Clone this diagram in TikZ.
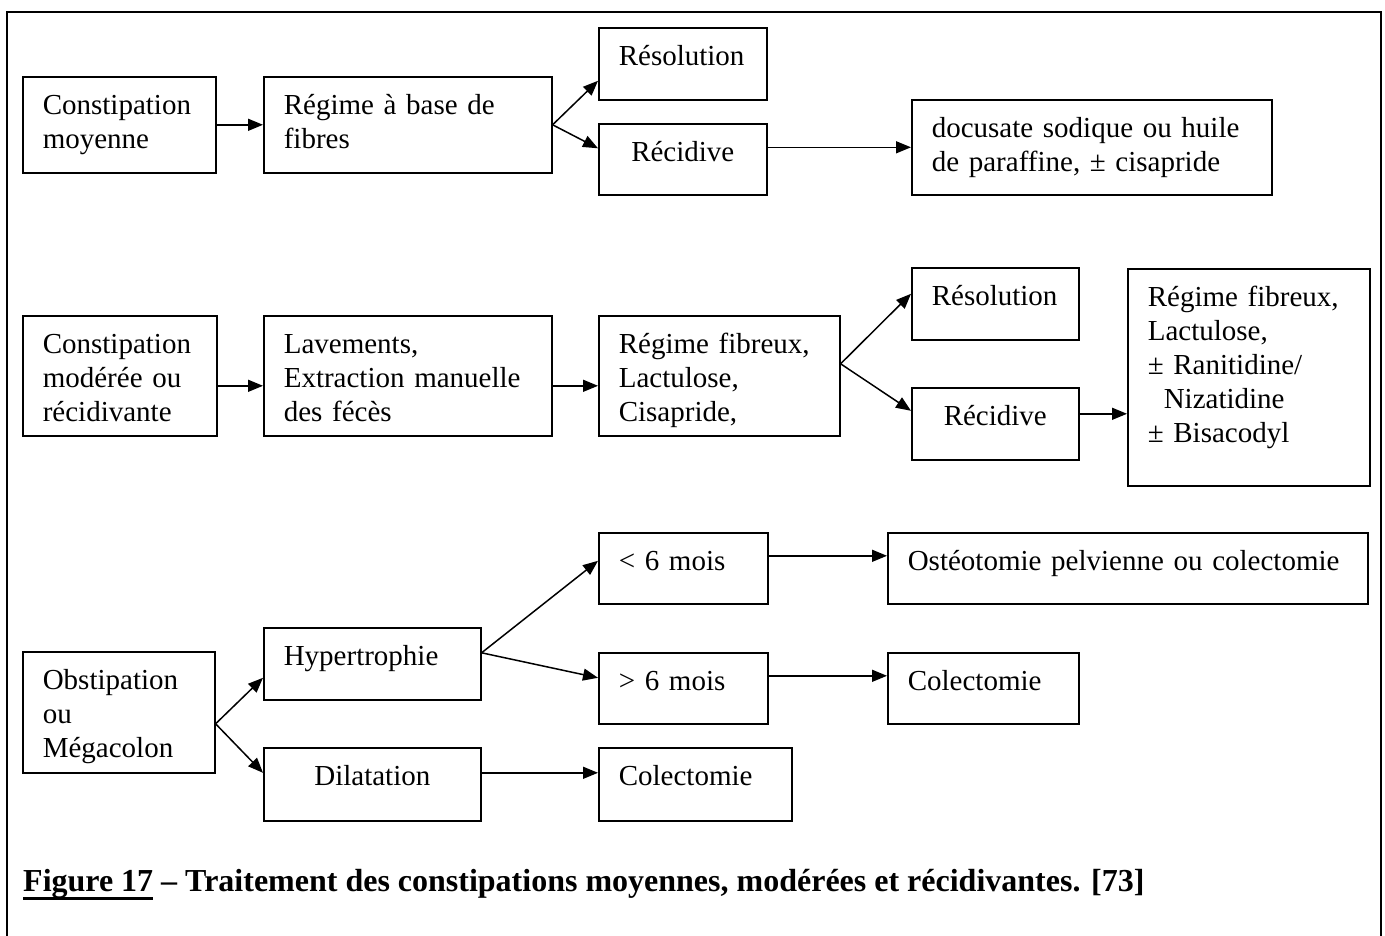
\documentclass[tikz,border=0pt]{standalone}
\usepackage{fontspec}
\setmainfont{Liberation Serif}
\usetikzlibrary{arrows.meta}

\newcommand{\pw}{1385}
\newcommand{\ph}{936}
\newcommand{\figul}[1]{\setbox0\hbox{#1}\rlap{\rule[-9pt]{\wd0}{3.5pt}}\box0}

\tikzset{
  bx/.style={draw, line width=1.6pt, anchor=north west, align=left, inner xsep=20pt, inner ysep=0pt, text height=38pt, font=\fontsize{29}{34}\selectfont},
  bxc/.style={bx, align=center},
  arr/.style={line width=1.5pt, -{Triangle[length=15pt,width=12pt]}},
}

\begin{document}
\begin{tikzpicture}[x=1pt,y=-1pt]
  \useasboundingbox (0,0) rectangle (\pw,\ph);
  \draw[line width=2pt] (7,\ph) -- (7,12) -- (1381,12) -- (1381,\ph);

  % constipation moyenne
  \node[bx, text width=153pt, text depth=58pt] (a1) at (22,76) {Constipation\\moyenne};
  \node[bx, text width=248pt, text depth=58pt] (a2) at (263,76) {Régime à base de\\fibres};
  \node[bx, text width=128pt, text depth=34pt] (a3) at (598,27) {Résolution};
  \node[bxc, text width=128pt, text depth=33pt] (a4) at (598,123) {Récidive};
  \node[bx, text width=320pt, text depth=57pt] (a5) at (911,99) {docusate sodique ou huile\\de paraffine, ± cisapride};
  \draw[arr] (a1) -- (a2);
  \draw[arr] (a2.east) -- ([yshift=-17pt]a3.west);
  \draw[arr] (a2.east) -- ([yshift=11pt]a4.west);
  \draw[arr] (a4.east |- a5) -- (a5.west);

  % constipation moderee
  \node[bx, text width=154pt, text depth=82pt] (b1) at (22,315) {Constipation\\modérée ou\\récidivante};
  \node[bx, text width=248pt, text depth=82pt] (b2) at (263,315) {Lavements,\\Extraction manuelle\\des fécès};
  \node[bx, text width=201pt, text depth=82pt] (b3) at (598,315) {Régime fibreux,\\Lactulose,\\Cisapride,};
  \node[bx, text width=127pt, text depth=34pt] (b4) at (911,267) {Résolution};
  \node[bxc, text width=127pt, text depth=34pt] (b5) at (911,387) {Récidive};
  \node[bx, text width=202pt, text depth=179pt] (b6) at (1127,268) {Régime fibreux,\\Lactulose,\\± Ranitidine/\\\hspace*{16pt}Nizatidine\\± Bisacodyl};
  \coordinate (b1o) at ([yshift=-10pt]b1.east);
  \coordinate (b2o) at ([yshift=-10pt]b2.east);
  \coordinate (b3o) at ([yshift=12pt]b3.east);
  \coordinate (b5o) at ([yshift=10pt]b5.east);
  \draw[arr] (b1o) -- (b1o -| b2.west);
  \draw[arr] (b2o) -- (b2o -| b3.west);
  \draw[arr] (b3o) -- ([yshift=10pt]b4.west);
  \draw[arr] (b3o) -- ([yshift=13pt]b5.west);
  \draw[arr] (b5o) -- (b5o -| b6.west);

  % obstipation
  \node[bx, text width=152pt, text depth=83pt] (c1) at (22,651) {Obstipation\\ou\\Mégacolon};
  \node[bx, text width=177pt, text depth=34pt] (c2) at (263,627) {Hypertrophie};
  \node[bxc, text width=177pt, text depth=35pt] (c3) at (263,747) {Dilatation};
  \node[bx, text width=129pt, text depth=33pt] (c4) at (598,532) {< 6 mois};
  \node[bx, text width=129pt, text depth=33pt] (c5) at (598,652) {> 6 mois};
  \node[bx, text width=440pt, text depth=33pt] (c6) at (887,532) {Ostéotomie pelvienne ou colectomie};
  \node[bx, text width=151pt, text depth=33pt] (c7) at (887,652) {Colectomie};
  \node[bx, text width=153pt, text depth=35pt] (c8) at (598,747) {Colectomie};
  \coordinate (c1o) at ([yshift=-11.5pt]c1.east);
  \coordinate (c2o) at ([yshift=11pt]c2.east);
  \coordinate (c3o) at ([yshift=11.5pt]c3.east);
  \coordinate (c4o) at ([yshift=12.5pt]c4.east);
  \coordinate (c5o) at ([yshift=12.5pt]c5.east);
  \draw[arr] (c1o) -- ([yshift=-14pt]c2.west);
  \draw[arr] (c1o) -- ([yshift=11.5pt]c3.west);
  \draw[arr] (c2o) -- ([yshift=7.5pt]c4.west);
  \draw[arr] (c2o) -- ([yshift=10.5pt]c5.west);
  \draw[arr] (c4o) -- (c4o -| c6.west);
  \draw[arr] (c5o) -- (c5o -| c7.west);
  \draw[arr] (c3o) -- (c3o -| c8.west);

  \node[anchor=base west, inner sep=0pt, font=\fontsize{32}{38}\selectfont\bfseries] (cap) at (23,891)
    {\figul{Figure 17}\ – Traitement des constipations moyennes, modérées et récidivantes. [73]};
\end{tikzpicture}
\end{document}
